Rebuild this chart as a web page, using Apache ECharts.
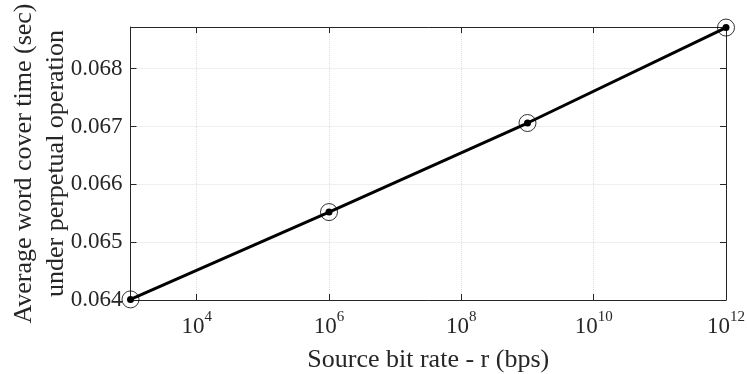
<!DOCTYPE html>
<html>
<head>
<meta charset="utf-8">
<script src="https://cdn.jsdelivr.net/npm/echarts@6/dist/echarts.min.js"></script>
<style>
html,body{margin:0;padding:0;background:#fff;}
#chart{width:747px;height:374px;}
</style>
</head>
<body>
<div id="chart"></div>
<script>
// source bit rate (bps) and cover time (sec)
var rates = [1e3, 1e6, 1e9, 1e12];
var coverTime = [0.06401, 0.06552, 0.06706, 0.06871];
var xTicks = [1e4, 1e6, 1e8, 1e10, 1e12];
var yTicks = [0.064, 0.065, 0.066, 0.067, 0.068];

var FONT = '"Liberation Serif", "Times New Roman", serif';
var AXIS = '#262626';

var pts = [];
for (var i = 0; i < rates.length; i++) {
	pts.push([rates[i], coverTime[i]]);
}

function supLabel(v) {
	var e = Math.round(Math.log10(v));
	return '{b|10}{e|' + e + '}';
}

var option = {
	backgroundColor: '#fff',
	animation: false,
	textStyle: { fontFamily: FONT, color: '#262626' },
	grid: { left: 130.5, right: 21, top: 27, bottom: 74, outerBoundsMode: 'none', containLabel: false },
	xAxis: [
		{
			type: 'log', logBase: 10, min: 1e3, max: 1e12,
			position: 'bottom',
			name: 'Source bit rate - r (bps)',
			nameLocation: 'middle', nameGap: 47, nameMoveOverlap: false,
			nameTextStyle: { fontFamily: FONT, fontSize: 26, color: '#262626' },
			axisLine: { lineStyle: { color: AXIS, width: 1 } },
			axisTick: { inside: true, length: 6, customValues: xTicks, lineStyle: { color: AXIS } },
			axisLabel: {
				customValues: xTicks,
				formatter: supLabel, margin: 10,
				fontFamily: FONT,
				rich: {
					b: { fontFamily: FONT, fontSize: 23, color: '#262626', lineHeight: 28, verticalAlign: 'bottom' },
					e: { fontFamily: FONT, fontSize: 15, color: '#262626', lineHeight: 15, verticalAlign: 'top' }
				}
			},
			splitLine: { show: true, lineStyle: { color: '#dedede', type: 'dotted', width: 1 } }
		},
		{
			type: 'log', logBase: 10, min: 1e3, max: 1e12,
			position: 'top',
			axisLine: { lineStyle: { color: AXIS, width: 1 } },
			axisTick: { inside: true, length: 6, customValues: xTicks, lineStyle: { color: AXIS } },
			axisLabel: { show: false },
			splitLine: { show: false }
		}
	],
	yAxis: [
		{
			type: 'value', min: 0.064, max: 0.06872,
			position: 'left',
			name: 'Average word cover time (sec)\nunder perpetual operation',
			nameLocation: 'middle', nameGap: 58, nameRotate: 90, nameMoveOverlap: false,
			nameTextStyle: { fontFamily: FONT, fontSize: 26, color: '#262626', lineHeight: 32 },
			axisLine: { show: true, lineStyle: { color: AXIS, width: 1 } },
			axisTick: { show: true, inside: true, length: 6, customValues: yTicks, lineStyle: { color: AXIS } },
			axisLabel: {
				customValues: yTicks,
				formatter: function (v) { return v.toFixed(3); },
				fontFamily: FONT, fontSize: 23, color: '#262626', margin: 8
			},
			splitLine: { show: true, lineStyle: { color: '#dedede', type: 'dotted', width: 1 } }
		},
		{
			type: 'value', min: 0.064, max: 0.06872,
			position: 'right',
			axisLine: { show: true, lineStyle: { color: AXIS, width: 1 } },
			axisTick: { show: true, inside: true, length: 6, customValues: yTicks, lineStyle: { color: AXIS } },
			axisLabel: { show: false },
			splitLine: { show: false }
		}
	],
	series: [
		{
			type: 'line',
			data: pts,
			xAxisIndex: 0, yAxisIndex: 0,
			clip: false,
			lineStyle: { color: '#000', width: 3 },
			symbol: 'circle', symbolSize: 7,
			itemStyle: { color: '#000' },
			z: 3
		},
		{
			type: 'scatter',
			data: pts,
			xAxisIndex: 0, yAxisIndex: 0,
			clip: false,
			symbol: 'circle', symbolSize: 17,
			itemStyle: { color: 'rgba(0,0,0,0)', borderColor: '#000', borderWidth: 1 },
			z: 4
		}
	]
};

var chart = echarts.init(document.getElementById('chart'), null, { renderer: 'canvas' });
chart.setOption(option);
</script>
</body>
</html>
